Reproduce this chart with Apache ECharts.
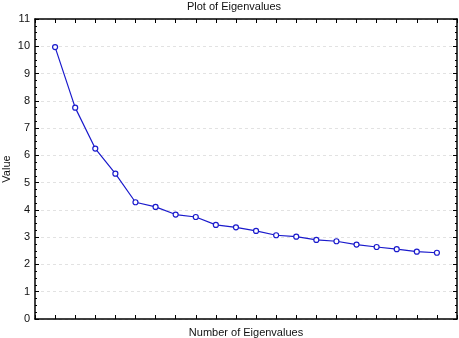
<!DOCTYPE html>
<html>
<head>
<meta charset="utf-8">
<script src="https://cdn.jsdelivr.net/npm/echarts@6/dist/echarts.min.js"></script>
<style>html,body{margin:0;padding:0;background:#fff;}#c{width:459px;height:338px;}</style>
</head>
<body>
<div id="c"></div>
<script>
const eigenNumbers = [1,2,3,4,5,6,7,8,9,10,11,12,13,14,15,16,17,18,19,20];
const eigenValues = [9.97,7.75,6.25,5.33,4.28,4.11,3.83,3.74,3.45,3.36,3.23,3.07,3.02,2.90,2.85,2.73,2.64,2.56,2.47,2.43];
const yTicks = [0,1,2,3,4,5,6,7,8,9,10,11];

const FONT = 'Liberation Sans, Arial, sans-serif';
const chart = echarts.init(document.getElementById('c'), null, {renderer:'canvas'});
const frameLine = {show:true, onZero:false, lineStyle:{color:'#000', width:1.5}};
const xBase = {
  type:'value', min:0, max:21, interval:1,
  axisLine: frameLine,
  axisTick:{show:true, inside:true, length:4, lineStyle:{color:'#000'}},
  axisLabel:{show:false},
  splitLine:{show:false}
};
const yBase = {
  type:'value', min:yTicks[0], max:yTicks[yTicks.length-1], interval:1,
  axisLine: frameLine,
  axisTick:{show:true, inside:true, length:4, lineStyle:{color:'#000'}},
  minorTick:{show:true, splitNumber:4, length:2, lineStyle:{color:'#000'}},
};
chart.setOption({
  animation:false,
  backgroundColor:'#fff',
  title:{text:'Plot of Eigenvalues', left:229, top:-4, textAlign:'center',
    textStyle:{fontFamily:FONT, fontSize:11, fontWeight:'normal', color:'#111'}},
  grid:{left:35, top:19, right:2, bottom:19, containLabel:false, outerBoundsMode:'none'},
  xAxis:[
    Object.assign({}, xBase, {position:'bottom', name:'Number of Eigenvalues', nameLocation:'middle', nameGap:8,
      nameMoveOverlap:false,
      nameTextStyle:{fontFamily:FONT, fontSize:11, color:'#111'}}),
    Object.assign({}, xBase, {position:'top'})
  ],
  yAxis:[
    Object.assign({}, yBase, {position:'left', name:'Value', nameLocation:'middle', nameGap:23, nameRotate:90,
      nameMoveOverlap:false,
      nameTextStyle:{fontFamily:FONT, fontSize:11, color:'#111'},
      axisLabel:{show:true, fontFamily:FONT, fontSize:11, color:'#111', margin:5},
      splitLine:{show:true, lineStyle:{color:'#e2e2e2', type:[3,3], width:1}}}),
    Object.assign({}, yBase, {position:'right', axisLabel:{show:false}, splitLine:{show:false}})
  ],
  series:[{
    type:'line',
    data: eigenNumbers.map((n,i)=>[n, eigenValues[i]]),
    xAxisIndex:0, yAxisIndex:0,
    symbol:'circle', symbolSize:5,
    lineStyle:{color:'#1a1acc', width:1.2},
    itemStyle:{color:'#fff', borderColor:'#1a1acc', borderWidth:1.2},
    z:5
  }]
});
</script>
</body>
</html>
